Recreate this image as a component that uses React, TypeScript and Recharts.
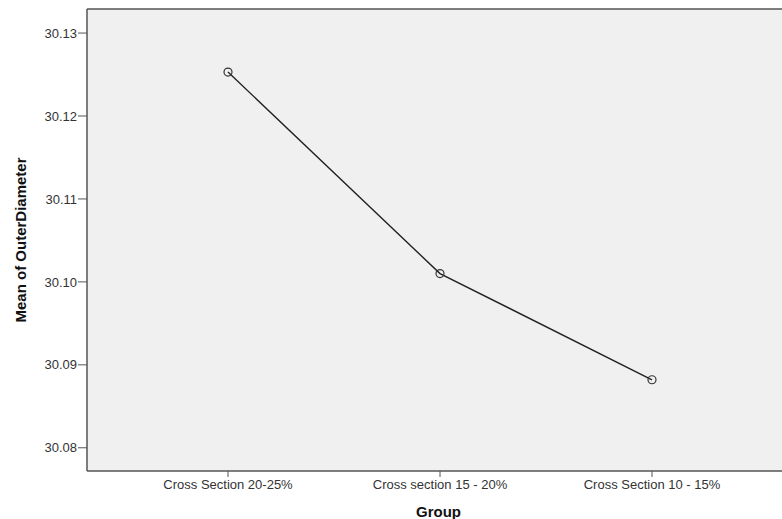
import { LineChart, Line, XAxis, YAxis, CartesianGrid, ReferenceLine } from 'recharts';

const groups = ['Cross Section 20-25%', 'Cross section 15 - 20%', 'Cross Section 10 - 15%'];
const meanOuterDiameter = [30.1253, 30.1010, 30.0882];
const yTicks = [30.08, 30.09, 30.1, 30.11, 30.12, 30.13];

const yMin = 30.0772;
const yMax = 30.1329;

const data = groups.map((group, i) => ({ group, mean: meanOuterDiameter[i] }));

const font = '"Liberation Sans", Arial, sans-serif';

export default function App() {
  return (
    <div style={{ position: 'absolute', left: 0, top: 0, width: 782, height: 519, background: '#fff', fontFamily: font }}>
      <LineChart width={782} height={519} data={data} margin={{ top: 9, right: 0, left: 0, bottom: 0 }}>
        <CartesianGrid fill="#f0f0f0" horizontal={false} vertical={false} />
        <ReferenceLine y={yMax} stroke="#555" strokeWidth={1.5} ifOverflow="extendDomain" />
        <XAxis
          dataKey="group"
          type="category"
          height={48}
          padding={{ left: 141, right: 130 }}
          axisLine={{ stroke: '#555', strokeWidth: 1.5 }}
          tickLine={{ stroke: '#555' }}
          tickSize={6}
          tickMargin={3}
          tick={{ fill: '#333', fontSize: 13, fontFamily: font }}
          interval={0}
          label={(props: any) => {
            const vb = props.viewBox;
            return (
              <text
                x={vb.x + vb.width / 2 + 4}
                y={511}
                textAnchor="middle"
                dominantBaseline="central"
                fontSize={15}
                fontWeight="bold"
                fill="#111"
                fontFamily={font}
              >
                Group
              </text>
            );
          }}
        />
        <YAxis
          type="number"
          width={87}
          domain={[yMin, yMax]}
          ticks={yTicks}
          allowDataOverflow
          tickFormatter={(v: number) => v.toFixed(2)}
          axisLine={{ stroke: '#555', strokeWidth: 1.5 }}
          tickLine={{ stroke: '#555' }}
          tickSize={9}
          tickMargin={1}
          tick={{ fill: '#333', fontSize: 13, fontFamily: font }}
          label={(props: any) => {
            const vb = props.viewBox;
            const cy = vb.y + vb.height / 2;
            return (
              <text
                x={20}
                y={cy}
                transform={`rotate(-90 20 ${cy})`}
                textAnchor="middle"
                dominantBaseline="central"
                fontSize={15}
                fontWeight="bold"
                fill="#111"
                fontFamily={font}
              >
                Mean of OuterDiameter
              </text>
            );
          }}
        />
        <Line
          dataKey="mean"
          type="linear"
          stroke="#222"
          strokeWidth={1.4}
          dot={{ r: 4, stroke: '#333', strokeWidth: 1.2, fill: 'none' }}
          activeDot={false}
          isAnimationActive={false}
        />
      </LineChart>
    </div>
  );
}
